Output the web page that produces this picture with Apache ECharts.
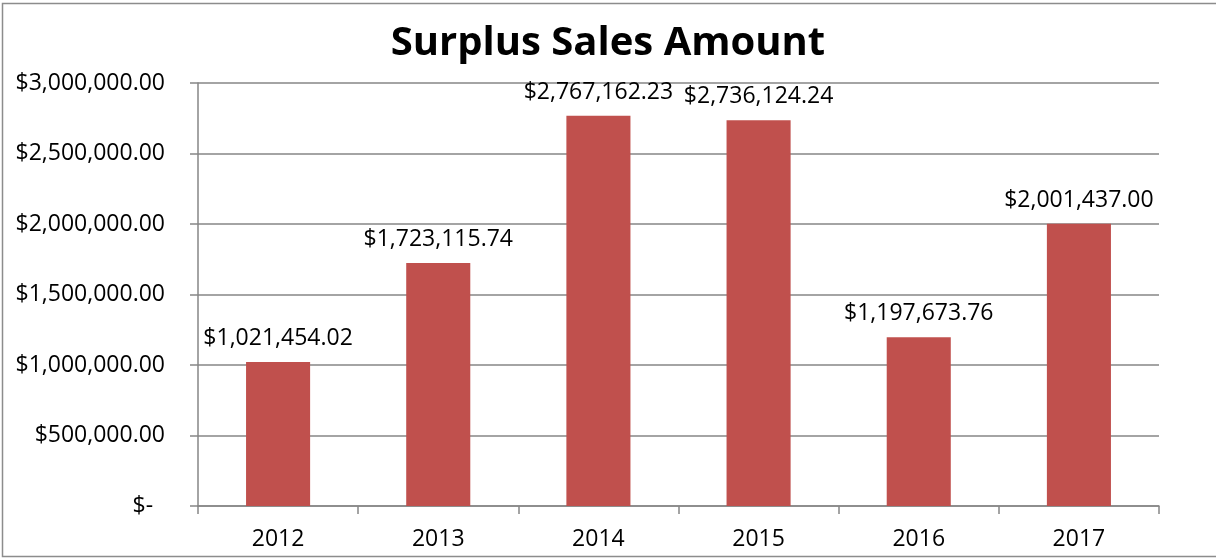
<!DOCTYPE html>
<html>
<head>
<meta charset="utf-8">
<script src="https://cdn.jsdelivr.net/npm/echarts@6/dist/echarts.min.js"></script>
<style>
  html, body { margin: 0; padding: 0; background: #fff; }
  #chart { width: 1216px; height: 559px; }
</style>
</head>
<body>
<div id="chart"></div>
<script>
const years = ["2012", "2013", "2014", "2015", "2016", "2017"];
const amounts = [1021454.02, 1723115.74, 2767162.23, 2736124.24, 1197673.76, 2001437.0];
const yTicks = [0, 500000, 1000000, 1500000, 2000000, 2500000, 3000000];

const FONT = "'Open Sans', Lato, sans-serif";

function money(v) {
  if (v === 0) return "$-  ";
  return "$" + v.toLocaleString("en-US", { minimumFractionDigits: 2, maximumFractionDigits: 2 });
}

const chart = echarts.init(document.getElementById("chart"));

chart.setOption({
  animation: false,
  title: {
    text: "Surplus Sales Amount",
    left: "center",
    top: 19,
    textStyle: { fontFamily: FONT, fontWeight: "bold", fontSize: 40, color: "#000" },
  },
  graphic: [
    {
      type: "rect",
      shape: { x: 2.5, y: 3.5, width: 1240, height: 553 },
      style: { fill: "none", stroke: "#8c8c8c", lineWidth: 1.5 },
      silent: true,
    },
  ],
  grid: { left: 198, right: 57, top: 83, bottom: 53 },
  xAxis: {
    type: "category",
    data: years,
    axisLine: { lineStyle: { color: "#868686", width: 1.5 } },
    axisTick: { show: true, length: 8, lineStyle: { color: "#868686", width: 1.5 } },
    axisLabel: { fontFamily: FONT, fontSize: 23, color: "#000", margin: 22 },
  },
  yAxis: {
    type: "value",
    min: yTicks[0],
    max: yTicks[yTicks.length - 1],
    interval: yTicks[1] - yTicks[0],
    axisLine: { show: true, lineStyle: { color: "#868686", width: 1.5 } },
    axisTick: { show: true, length: 8, lineStyle: { color: "#868686", width: 1.5 } },
    splitLine: { lineStyle: { color: "#868686", width: 1.5 } },
    axisLabel: { fontFamily: FONT, fontSize: 23, color: "#000", margin: 33, formatter: money },
  },
  series: [
    {
      type: "bar",
      data: amounts,
      barWidth: "40%",
      itemStyle: { color: "#C0504D" },
      label: {
        show: true,
        position: "top",
        distance: 12,
        fontFamily: FONT,
        fontSize: 23,
        color: "#000",
        formatter: (p) => money(p.value),
      },
    },
  ],
});
</script>
</body>
</html>
